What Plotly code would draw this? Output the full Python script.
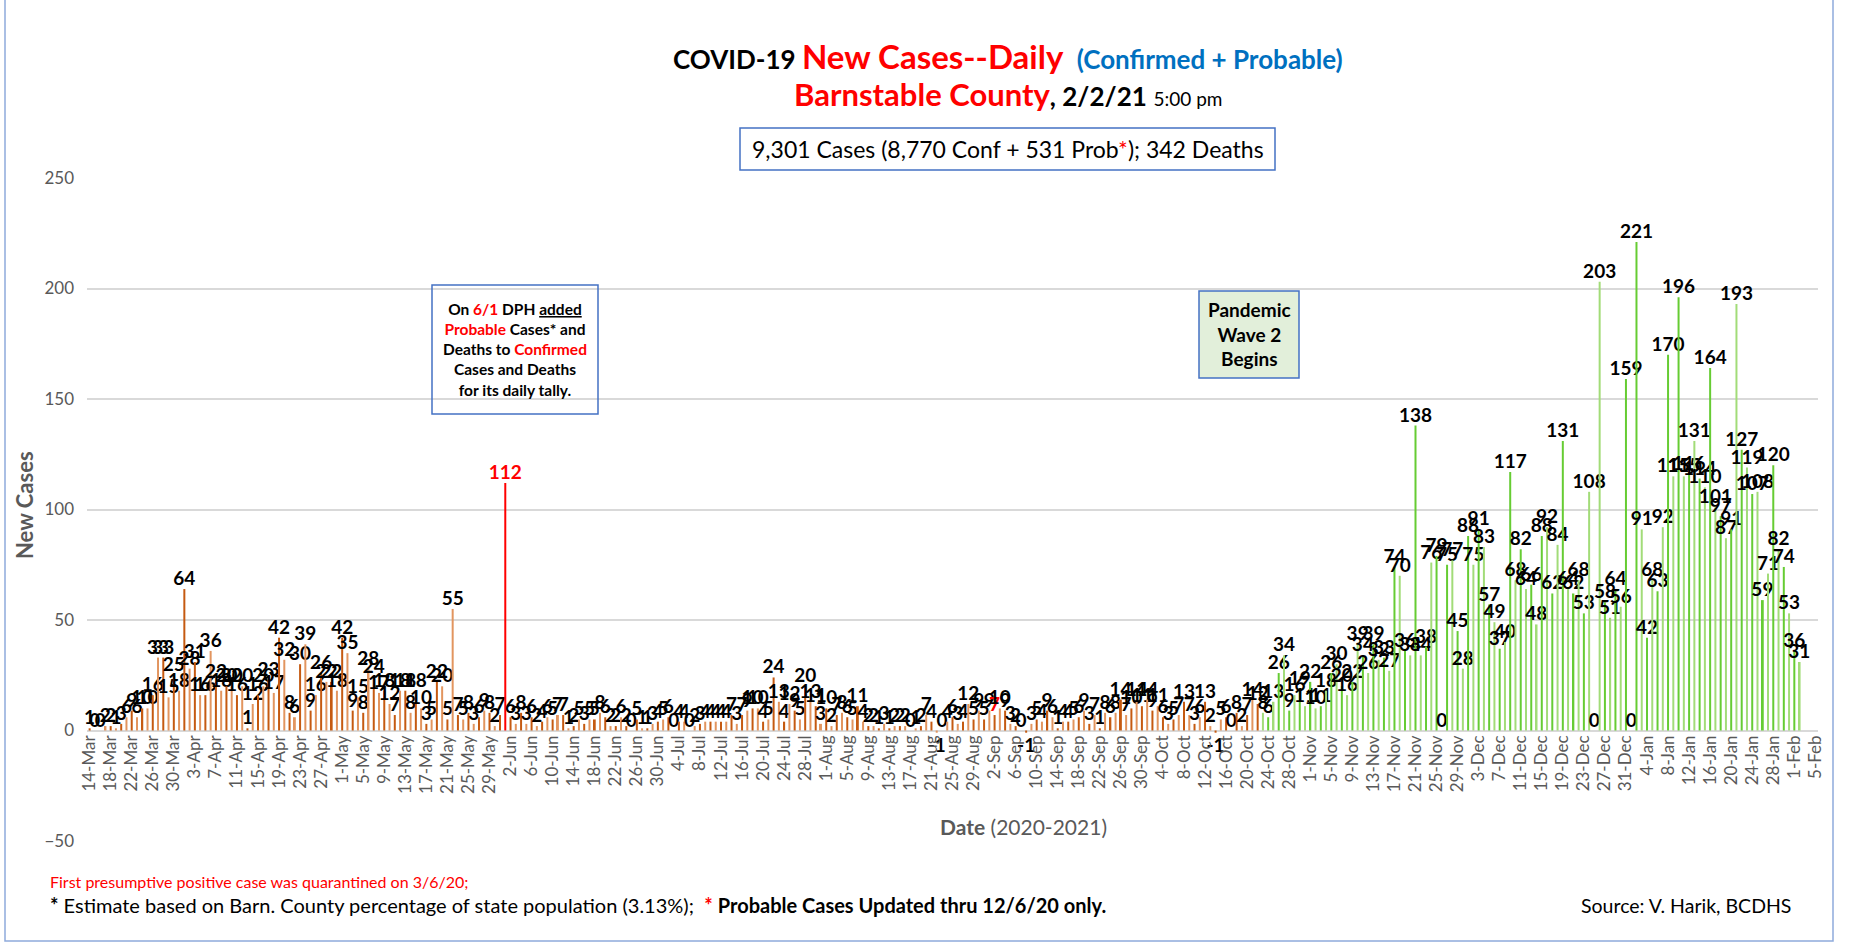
import plotly.graph_objects as go
import pandas as pd

# ---- data: daily new cases, 14-Mar-2020 .. 2-Feb-2021 ----
mar = [1,0,0,2,2,1,3,6,9,6,10,10,16,33,33,15,25,18]
apr = [64,28,31,16,16,36,22,18,20,20,16,20,1,12,16,20,23,17,42,32,8,6,30,39,9,16,26,22,22,18]
may = [42,35,9,15,8,28,24,17,18,12,7,18,18,8,18,10,3,5,22,20,5,55,7,5,8,3,6,9,8,2,7]
jun = [112,6,3,8,3,6,2,4,6,5,7,7,1,2,5,3,5,5,8,6,2,2,6,2,0,5,1,1,3,4]
jul = [5,6,0,4,4,0,2,3,4,4,4,4,4,7,3,7,9,10,10,4,5,24,13,4,12,9,5,20,13,11,3]
aug = [10,2,7,8,6,5,11,4,2,2,1,3,1,2,2,2,0,1,2,7,4,-1,0,4,6,3,4,12,5,9,5]
sep = [9,7,10,9,3,2,0,-1,3,5,4,9,6,1,4,4,5,6,9,3,7,1,8,6,8,14,7,10,14,11]
oct_ = [14,9,11,6,3,5,7,13,7,3,6,13,2,-1,5,6,0,8,2,7,14,12,8,6,13,26,34,9,16,19,11]
nov = [22,10,11,18,26,30,20,16,22,39,34,26,39,32,33,27,74,70,36,34,138,34,38,76,79,0,75,77,45,28]
dec = [88,75,91,83,57,49,37,40,117,68,82,64,66,48,88,92,62,84,131,64,62,68,53,108,0,203,58,51,64,56,159]
jan = [0,221,91,42,68,63,92,170,115,196,115,116,131,114,110,164,101,97,87,91,193,127,119,107,108,59,71,120,82,74,53]
feb = [36,31]

start_date = "2020-03-14"
wave2_start = "2020-10-23"
probable_added = "2020-06-01"
red_label_date = "2020-09-02"

values = mar + apr + may + jun + jul + aug + sep + oct_ + nov + dec + jan + feb
dates = pd.date_range(start_date, periods=len(values), freq="D")

# ---- styles ----
colors, tcolors = [], []
for i, d in enumerate(dates):
    if d == pd.Timestamp(probable_added):
        colors.append("#FF0000")
    elif d >= pd.Timestamp(wave2_start):
        colors.append("#66CC33" if i % 2 == 0 else "#A2DC78")
    else:
        colors.append("#C55A11" if i % 2 == 0 else "#E2955F")
    tcolors.append("#FF0000" if d in (pd.Timestamp(probable_added), pd.Timestamp(red_label_date)) else "#000000")

W, H = 1865, 946
L, R, T, B = 87, 47, 178, 105
PW, PH = W - L - R, H - T - B

def X(px):
    return (px - L) / PW

def Y(py):
    return (H - B - py) / PH

FONT = "Lato, Calibri, Carlito, sans-serif"
GRAY = "#595959"

fig = go.Figure()
fig.add_trace(go.Bar(
    x=dates, y=values, text=[str(v) for v in values],
    textposition="outside", constraintext="none", cliponaxis=False,
    textfont=dict(family=FONT, size=19, color=tcolors, weight="bold"),
    marker=dict(color=colors, line=dict(width=0)),
    hoverinfo="x+y",
))

annotations = [
    dict(x=X(1008), y=Y(56),
         text="<b>COVID-19 </b><span style='color:#FF0000;font-size:33px'><b>New Cases--Daily</b></span>  "
              "<span style='color:#0070C0;font-size:26px'><b>(Confirmed + Probable)</b></span>",
         font=dict(size=26, color="#000000", family=FONT)),
    dict(x=X(1008), y=Y(94),
         text="<span style='color:#FF0000;font-size:31px'><b>Barnstable County</b></span><b>, 2/2/21</b> "
              "<span style='font-size:19px'>5:00 pm</span>",
         font=dict(size=26, color="#000000", family=FONT)),
    dict(x=X(1008), y=Y(149),
         text="9,301 Cases (8,770 Conf + 531 Prob<span style='color:#FF0000'>*</span>); 342 Deaths",
         font=dict(size=23, color="#000000", family=FONT)),
    dict(x=X(515), y=Y(349),
         text="<b>On <span style='color:#FF0000'>6/1</span> DPH <u>added</u><br>"
              "<span style='color:#FF0000'>Probable</span> Cases* and<br>"
              "Deaths to <span style='color:#FF0000'>Confirmed</span><br>"
              "Cases and Deaths<br>for its daily tally.</b>",
         font=dict(size=15.5, color="#000000", family=FONT)),
    dict(x=X(1249), y=Y(334),
         text="<b>Pandemic<br>Wave 2<br>Begins</b>",
         font=dict(size=19, color="#000000", family=FONT)),
    dict(x=X(24), y=Y(505), textangle=-90,
         text="<b>New Cases</b>", font=dict(size=22, color=GRAY, family=FONT)),
    dict(x=X(1023), y=Y(826),
         text="<b>Date</b> (2020-2021)", font=dict(size=21, color=GRAY, family=FONT)),
    dict(x=X(48), y=Y(881), xanchor="left",
         text="First presumptive positive case was quarantined on 3/6/20;",
         font=dict(size=16, color="#FF0000", family=FONT)),
    dict(x=X(48), y=Y(905), xanchor="left",
         text="<b>*</b> Estimate based on Barn. County percentage of state population (3.13%);  "
              "<span style='color:#FF0000'><b>*</b></span> <b>Probable Cases Updated thru 12/6/20 only.</b>",
         font=dict(size=20, color="#000000", family=FONT)),
    dict(x=X(1793), y=Y(905), xanchor="right",
         text="Source: V. Harik, BCDHS",
         font=dict(size=19.5, color="#000000", family=FONT)),
]
for a in annotations:
    a.setdefault("xanchor", "center")
    a.update(xref="paper", yref="paper", yanchor="middle", showarrow=False)

shapes = [
    dict(type="rect", xref="paper", yref="paper", x0=X(740), x1=X(1275), y0=Y(170), y1=Y(128),
         line=dict(color="#4472C4", width=1.5)),
    dict(type="rect", xref="paper", yref="paper", x0=X(432), x1=X(598), y0=Y(414), y1=Y(285),
         line=dict(color="#4472C4", width=1.5)),
    dict(type="rect", xref="paper", yref="paper", x0=X(1199), x1=X(1299), y0=Y(378), y1=Y(291),
         line=dict(color="#4472C4", width=1.5), fillcolor="#E2EFDA", layer="below"),
    dict(type="rect", xref="paper", yref="paper", x0=X(5), x1=X(1833), y0=Y(941), y1=Y(-10),
         line=dict(color="#8FAADC", width=1.5)),
]

fig.update_layout(
    width=W, height=H,
    margin=dict(l=L, r=R, t=T, b=B, pad=0),
    paper_bgcolor="white", plot_bgcolor="white",
    showlegend=False, bargap=0.62,
    font=dict(family=FONT, color=GRAY),
    annotations=annotations, shapes=shapes,
    xaxis=dict(type="date", range=["2020-03-13 12:00", "2021-02-05 12:00"],
               tick0=start_date, dtick=4 * 86400000, tickformat="%-d-%b", tickangle=-90,
               tickfont=dict(size=17, color=GRAY, family=FONT),
               showgrid=False, showline=False, zeroline=False, ticks="",
               anchor="free", position=Y(731)),
    yaxis=dict(range=[-50, 250], dtick=50, showgrid=True, gridcolor="#D9D9D9", gridwidth=1.5,
               zeroline=True, zerolinecolor="#D9D9D9", zerolinewidth=2,
               tickfont=dict(size=17, color=GRAY, family=FONT), ticks="", ticklabelstandoff=12,
               showline=False),
)

fig.write_html("out.html", config={"displayModeBar": False},
               post_script="document.body.style.margin='0';")
